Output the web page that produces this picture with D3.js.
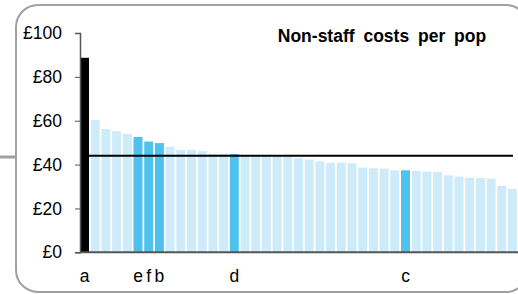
<!DOCTYPE html>
<html>
<head>
<meta charset="utf-8">
<script src="https://cdn.jsdelivr.net/npm/d3@7"></script>
<style>
  body { margin: 0; background: white; }
  svg { display: block; font-family: Arial, "Liberation Sans", sans-serif; }
</style>
</head>
<body>
<div id="container"></div>
<script>
let w = 518;
let h = 294;

// one value per organisation, sorted high to low
let values = [88.7, 60.4, 56.2, 55.2, 54.0, 52.6, 50.5, 49.8, 48.1, 46.7,
  46.7, 46.1, 45.0, 44.9, 44.8, 44.4, 44.2, 44.1, 44.0, 43.6,
  42.9, 42.3, 41.5, 40.9, 40.9, 40.6, 38.6, 38.3, 38.2, 37.4,
  37.4, 37.1, 36.8, 36.7, 35.1, 34.5, 34.0, 33.9, 33.6, 30.3, 28.9];
let labels = ["a", "", "", "", "", "e", "f", "b", "", "",
  "", "", "", "", "d", "", "", "", "", "",
  "", "", "", "", "", "", "", "", "", "",
  "c", "", "", "", "", "", "", "", "", "", ""];
let yTicks = [0, 20, 40, 60, 80, 100];
let average = 44.0;
let title = "Non-staff costs per pop";

let fontSize = "17.5px";

let viz = d3.select("#container")
  .append("svg")
  .attr("width", w)
  .attr("height", h);

// frame + connector stub
viz.append("line")
  .attr("x1", 0).attr("x2", 16)
  .attr("y1", 157).attr("y2", 157)
  .attr("stroke", "#a0a0a0")
  .attr("stroke-width", 3);

viz.append("rect")
  .attr("x", 16).attr("y", 5)
  .attr("width", 512).attr("height", 287)
  .attr("rx", 22).attr("ry", 22)
  .attr("fill", "white")
  .attr("stroke", "#a0a0a0")
  .attr("stroke-width", 2);

let xScale = d3.scaleBand()
  .domain(d3.range(values.length))
  .range([80, 517])
  .paddingInner(0.16)
  .paddingOuter(0);

let yScale = d3.scaleLinear().domain([0, 100]).range([252.3, 33]);

function barColor(d, i) {
  if (labels[i] == "a") return "black";
  if (labels[i] != "") return "#4cc2ec";
  return "#cdebf9";
}

viz.append("g")
  .selectAll("rect")
  .data(values)
  .enter()
  .append("rect")
  .attr("x", (d, i) => xScale(i))
  .attr("y", d => yScale(d))
  .attr("width", xScale.bandwidth())
  .attr("height", d => yScale(0) - yScale(d))
  .attr("fill", barColor);

// average line
viz.append("line")
  .attr("x1", 80).attr("x2", 513)
  .attr("y1", yScale(average)).attr("y2", yScale(average))
  .attr("stroke", "black")
  .attr("stroke-width", 2);

// y axis
let yAxis = d3.axisLeft(yScale)
  .tickValues(yTicks)
  .tickSize(5)
  .tickPadding(13)
  .tickFormat(d => "£" + d);

let yAxisGroup = viz.append("g")
  .attr("transform", "translate(80,0)")
  .call(yAxis);
yAxisGroup.select(".domain").attr("stroke", "#555").attr("stroke-width", 1.5);
yAxisGroup.selectAll(".tick line").attr("stroke", "#555");
yAxisGroup.selectAll("text")
  .attr("font-size", fontSize)
  .attr("font-family", "Arial, 'Liberation Sans', sans-serif")
  .attr("fill", "black");

// baseline
viz.append("line")
  .attr("x1", 80).attr("x2", 518)
  .attr("y1", yScale(0)).attr("y2", yScale(0))
  .attr("stroke", "#555")
  .attr("stroke-width", 2);

// category labels
viz.append("g")
  .selectAll("text")
  .data(labels)
  .enter()
  .append("text")
  .text(d => d)
  .attr("x", (d, i) => xScale(i) + xScale.bandwidth() / 2)
  .attr("y", 282)
  .attr("text-anchor", "middle")
  .attr("font-size", fontSize)
  .attr("fill", "black");

viz.append("text")
  .text(title)
  .attr("x", 382)
  .attr("y", 42)
  .attr("text-anchor", "middle")
  .attr("font-size", "17.5px")
  .attr("font-weight", "bold")
  .attr("word-spacing", "4px")
  .attr("fill", "black");
</script>
</body>
</html>
